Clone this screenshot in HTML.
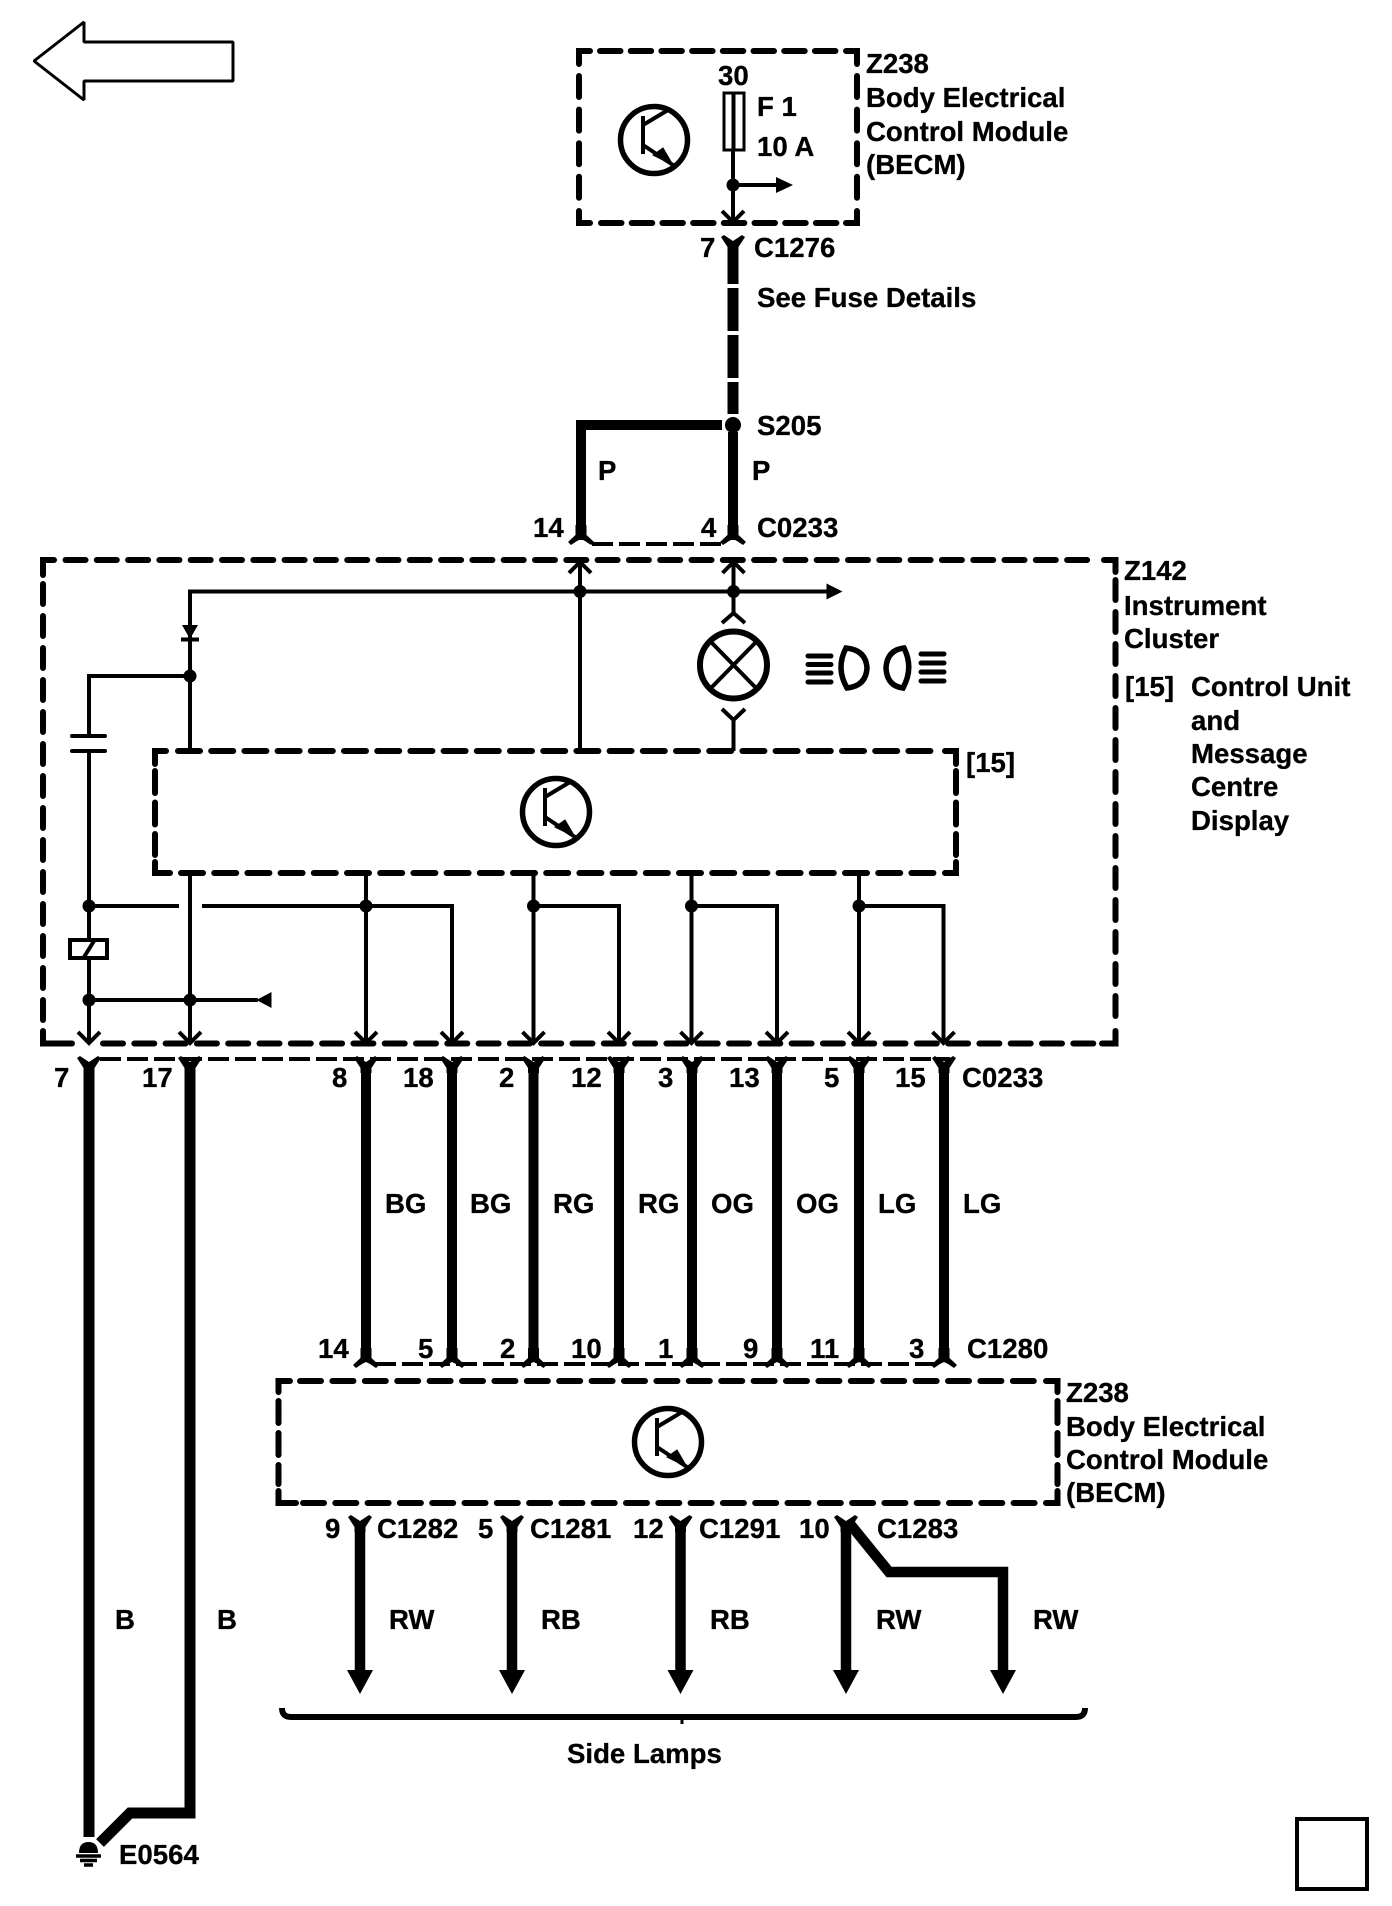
<!DOCTYPE html>
<html>
<head>
<meta charset="utf-8">
<style>
html,body{margin:0;padding:0;background:#fff;}
svg{display:block;}
text{font-family:"Liberation Sans",sans-serif;font-weight:700;font-size:27.6px;fill:#000;stroke:#000;stroke-width:0.3;}
.t{fill:none;stroke:#000;stroke-width:4;}
.w{fill:none;stroke:#000;stroke-width:11;stroke-linejoin:miter;}
.dh{fill:none;stroke:#000;stroke-width:6;stroke-linecap:round;}
.c{fill:none;stroke:#000;stroke-width:6;stroke-linecap:round;stroke-linejoin:miter;}
.cd{fill:none;stroke:#000;stroke-width:4;stroke-dasharray:21 6;}
</style>
</head>
<body>
<svg width="1392" height="1906" viewBox="0 0 1392 1906" xmlns="http://www.w3.org/2000/svg">
<defs>
<path id="yt" d="M-12,-1 L-9,-3 L0,3 L9,-3 L12,-1 L5.5,9 L5.5,14 L-5.5,14 L-5.5,9 Z" fill="#000"/>
<path id="ft" d="M-5.5,-16 L-5.5,-6 L-13,1 L-10,4 L-4,0 L0,-2 L4,0 L10,4 L13,1 L5.5,-6 L5.5,-16 Z" fill="#000"/>
<path id="dn" d="M-11,-11 L0,0 L11,-11" fill="none" stroke="#000" stroke-width="4"/>
<path id="up" d="M-11,11 L0,0 L11,11" fill="none" stroke="#000" stroke-width="4"/>
<path id="ah" d="M-13,-24 L13,-24 L0,0 Z" fill="#000"/>
<g id="tr">
<circle cx="0" cy="0" r="33.5" fill="none" stroke="#000" stroke-width="5.5"/>
<path d="M-11,-24 L-11,14 M-11,-15 L14,-30 M-11,5 L19,25" fill="none" stroke="#000" stroke-width="4"/>
<path d="M19,25 L-1,15 L9,8 Z" fill="#000" stroke="#000" stroke-width="1"/>
</g>
</defs>

<!-- top-left arrow -->
<path d="M84,22 L34,61 L84,100 L84,81 L233,81 L233,42 L84,42 Z" fill="none" stroke="#000" stroke-width="3" stroke-linejoin="bevel"/>

<!-- upper BECM box -->
<path class="c" d="M590,51 L579,51 L579,64"/>
<path class="c" d="M846,51 L857,51 L857,64"/>
<path class="c" d="M579,211 L579,223 L590,223"/>
<path class="c" d="M846,223 L857,223 L857,211"/>
<path class="dh" d="M600,51 L838,51" stroke-dasharray="20.5 10.2"/>
<path class="dh" d="M601,223 L838,223" stroke-dasharray="20.5 10.2"/>
<path class="dh" d="M579,76 L579,203" stroke-dasharray="21 12.6"/>
<path class="dh" d="M857,76 L857,203" stroke-dasharray="21 12.6"/>
<use href="#tr" x="654" y="140"/>
<rect x="724" y="93" width="20" height="57" fill="none" stroke="#000" stroke-width="3"/>
<path class="t" d="M733.5,93 L733.5,150"/>
<path class="t" d="M733,150 L733,222"/>
<circle cx="733" cy="185" r="6.5"/>
<path class="t" d="M733,185 L778,185"/>
<path d="M776,177 L793,185 L776,193 Z"/>
<use href="#dn" x="733" y="222"/>

<!-- C1276 wire -->
<use href="#yt" x="733" y="238"/>
<path d="M727.5,250 H738.5 V284 H727.5 Z M727.5,288 H738.5 V331 H727.5 Z M727.5,335 H738.5 V378 H727.5 Z M727.5,382 H738.5 V414 H727.5 Z" fill="#000"/>
<circle cx="733" cy="425" r="8"/>
<path class="w" d="M733,432 L733,540" style="stroke-width:10"/>
<path class="w" d="M722,425 L581,425 L581,540" style="stroke-width:10"/>
<use href="#ft" x="581" y="541"/>
<use href="#ft" x="733" y="541"/>
<path class="cd" d="M592,544 L722,544"/>

<!-- Z142 box -->
<path class="c" d="M54,560 L43,560 L43,575"/>
<path class="c" d="M1104,560 L1115.5,560 L1115.5,572"/>
<path class="c" d="M43,1031 L43,1043.5 L72,1043.5"/>
<path class="c" d="M1102,1043.5 L1115.5,1043.5 L1115.5,1031"/>
<path class="dh" d="M65.5,560 L1095,560" stroke-dasharray="20 11.3"/>
<path class="dh" d="M103,1043.5 L1094,1043.5" stroke-dasharray="20 11.3"/>
<path class="dh" d="M43,584 L43,1022" stroke-dasharray="20 12"/>
<path class="dh" d="M1115.5,580 L1115.5,1022" stroke-dasharray="20 12"/>

<!-- inner [15] box -->
<path class="c" d="M166,751 L155,751 L155,764"/>
<path class="c" d="M945,751 L956,751 L956,764"/>
<path class="c" d="M155,862 L155,873 L170,873"/>
<path class="c" d="M945,873 L956,873 L956,862"/>
<path class="dh" d="M178,751 L935,751" stroke-dasharray="22 11.2"/>
<path class="dh" d="M181,873 L935,873" stroke-dasharray="22 11.2"/>
<path class="dh" d="M155,771 L155,855" stroke-dasharray="22 9.5"/>
<path class="dh" d="M956,771 L956,855" stroke-dasharray="22 9.5"/>
<use href="#tr" x="556" y="812"/>

<!-- inner wiring -->
<path class="t" d="M828,591.5 L190,591.5 L190,751"/>
<path d="M826.5,583.5 L842.5,591.5 L826.5,599.5 Z"/>
<path d="M182,625 L198,625 L190,639 Z"/>
<path class="t" d="M181,639.5 L199,639.5"/>
<path class="t" d="M580,751 L580,562"/>
<use href="#up" x="580" y="562"/>
<circle cx="580" cy="591.5" r="6.5"/>
<path class="t" d="M733.5,562 L733.5,613"/>
<use href="#up" x="733.5" y="562"/>
<circle cx="733.5" cy="591.5" r="6.5"/>
<path class="t" d="M722,623 L733.5,613 L745,623"/>
<circle cx="733.5" cy="665" r="33.5" fill="none" stroke="#000" stroke-width="6"/>
<path class="t" d="M710,641 L757,689 M757,641 L710,689"/>
<path class="t" d="M722,709 L733.5,720 L745,709 M733.5,720 L733.5,751"/>
<circle cx="190" cy="676" r="6.5"/>
<path class="t" d="M190,676 L89,676 L89,736"/>
<path d="M72,736 L105,736" stroke="#000" stroke-width="4" stroke-linecap="round"/>
<path d="M72,751 L105,751" stroke="#000" stroke-width="4" stroke-linecap="round"/>
<path class="t" d="M89,751 L89,939"/>
<circle cx="89" cy="906" r="6.5"/>
<rect x="70" y="940" width="37" height="18" fill="none" stroke="#000" stroke-width="4"/>
<path class="t" d="M84,957 L94,941"/>
<path class="t" d="M89,958 L89,1043"/>
<use href="#dn" x="89" y="1043"/>
<circle cx="89" cy="1000" r="6.5"/>
<path class="t" d="M89,906 L179,906"/>
<path class="t" d="M202,906 L452,906 L452,1043"/>
<path class="t" d="M190,873 L190,1043"/>
<use href="#dn" x="190" y="1043"/>
<circle cx="190" cy="1000" r="6.5"/>
<path class="t" d="M89,1000 L258,1000"/>
<path d="M271.5,992 L256.5,1000 L271.5,1008 Z"/>
<path class="t" d="M366,873 L366,1043"/>
<circle cx="366" cy="906" r="6.5"/>
<use href="#dn" x="366" y="1043"/>
<use href="#dn" x="452" y="1043"/>
<path class="t" d="M533.5,873 L533.5,1043 M533.5,906 L619,906 L619,1043"/>
<circle cx="533.5" cy="906" r="6.5"/>
<use href="#dn" x="533.5" y="1043"/>
<use href="#dn" x="619" y="1043"/>
<path class="t" d="M691.5,873 L691.5,1043 M691.5,906 L777,906 L777,1043"/>
<circle cx="691.5" cy="906" r="6.5"/>
<use href="#dn" x="691.5" y="1043"/>
<use href="#dn" x="777" y="1043"/>
<path class="t" d="M859,873 L859,1043 M859,906 L943.5,906 L943.5,1043"/>
<circle cx="859" cy="906" r="6.5"/>
<use href="#dn" x="859" y="1043"/>
<use href="#dn" x="943.5" y="1043"/>

<!-- lamp icons -->
<path d="M808,656 H831 M808,664.5 H831 M808,673 H831 M808,682 H831" stroke="#000" stroke-width="5" stroke-linecap="round" fill="none"/>
<path d="M846,648 Q866,650 867,668 Q866,686 847,688 Q835.5,668 846,648 Z" fill="none" stroke="#000" stroke-width="5.5"/>
<path d="M921,654 H944 M921,663 H944 M921,672 H944 M921,681 H944" stroke="#000" stroke-width="5" stroke-linecap="round" fill="none"/>
<path d="M904,648 Q887,650 886,668 Q887,686 903,688 Q914,668 904,648 Z" fill="none" stroke="#000" stroke-width="5.5"/>

<!-- C0233 lower connector -->
<path class="cd" d="M100,1059 L950,1059"/>
<use href="#yt" x="89" y="1059"/>
<use href="#yt" x="190" y="1059"/>
<use href="#yt" x="366" y="1059"/>
<use href="#yt" x="452" y="1059"/>
<use href="#yt" x="533.5" y="1059"/>
<use href="#yt" x="619" y="1059"/>
<use href="#yt" x="692" y="1059"/>
<use href="#yt" x="777" y="1059"/>
<use href="#yt" x="859" y="1059"/>
<use href="#yt" x="944" y="1059"/>

<!-- vertical harness wires -->
<path class="w" d="M366,1068 V1354 M452,1068 V1354 M533.5,1068 V1354 M619,1068 V1354 M692,1068 V1354 M777,1068 V1354 M859,1068 V1354 M944,1068 V1354" style="stroke-width:10"/>
<use href="#ft" x="366" y="1364"/>
<use href="#ft" x="452" y="1364"/>
<use href="#ft" x="533.5" y="1364"/>
<use href="#ft" x="619" y="1364"/>
<use href="#ft" x="692" y="1364"/>
<use href="#ft" x="777" y="1364"/>
<use href="#ft" x="859" y="1364"/>
<use href="#ft" x="944" y="1364"/>
<path class="cd" d="M375,1364 L936,1364"/>

<!-- ground wires -->
<path class="w" d="M89,1068 L89,1837"/>
<path class="w" d="M190,1068 L190,1813 L130,1813 L100,1843"/>
<path d="M79,1853 Q79,1842 88.5,1842 Q98,1842 98,1853 Z"/>
<path d="M76,1856 H101 M80,1860.5 H97 M84,1865 H93" stroke="#000" stroke-width="3.5" fill="none"/>

<!-- lower BECM box -->
<path class="c" d="M290,1381 L278.5,1381 L278.5,1392"/>
<path class="c" d="M1046,1381 L1057.5,1381 L1057.5,1392"/>
<path class="c" d="M278.5,1491 L278.5,1503 L296,1503"/>
<path class="c" d="M1046,1503 L1057.5,1503 L1057.5,1491"/>
<path class="dh" d="M300,1381 L1040,1381" stroke-dasharray="21 11.4"/>
<path class="dh" d="M303,1503 L1040,1503" stroke-dasharray="21 11.3"/>
<path class="dh" d="M278.5,1401 L278.5,1484" stroke-dasharray="22 10"/>
<path class="dh" d="M1057.5,1401 L1057.5,1484" stroke-dasharray="22 10"/>
<use href="#tr" x="668" y="1442"/>

<!-- lower output wires -->
<use href="#yt" x="360" y="1518"/>
<use href="#yt" x="512" y="1518"/>
<use href="#yt" x="680.5" y="1518"/>
<use href="#yt" x="846" y="1518"/>
<path class="w" d="M360,1530 V1672 M512,1530 V1672 M680.5,1530 V1672 M846,1530 V1672" style="stroke-width:10.5"/>
<path class="w" d="M850,1524 L889,1572 L1003,1572 L1003,1672" style="stroke-width:10.5"/>
<use href="#ah" x="360" y="1694"/>
<use href="#ah" x="512" y="1694"/>
<use href="#ah" x="680.5" y="1694"/>
<use href="#ah" x="846" y="1694"/>
<use href="#ah" x="1003" y="1694"/>

<!-- brace -->
<path d="M282,1708 Q282,1717 291,1717 L1076,1717 Q1085,1717 1085,1708" fill="none" stroke="#000" stroke-width="6"/>
<path d="M682,1715 V1724" stroke="#000" stroke-width="3"/>

<!-- bottom-right square -->
<rect x="1297" y="1819" width="70" height="70" fill="none" stroke="#000" stroke-width="4"/>

<!-- labels -->
<text x="866" y="73">Z238</text>
<text x="866" y="107">Body Electrical</text>
<text x="866" y="141">Control Module</text>
<text x="866" y="174">(BECM)</text>
<text x="718" y="85">30</text>
<text x="757" y="116">F 1</text>
<text x="757" y="156">10 A</text>
<text x="700" y="257">7</text>
<text x="754" y="257">C1276</text>
<text x="757" y="307">See Fuse Details</text>
<text x="757" y="435">S205</text>
<text x="598" y="480">P</text>
<text x="752" y="480">P</text>
<text x="533" y="537">14</text>
<text x="701" y="537">4</text>
<text x="757" y="537">C0233</text>
<text x="1124" y="580">Z142</text>
<text x="1124" y="615">Instrument</text>
<text x="1124" y="648">Cluster</text>
<text x="1125" y="696">[15]</text>
<text x="1191" y="696">Control Unit</text>
<text x="1191" y="730">and</text>
<text x="1191" y="763">Message</text>
<text x="1191" y="796">Centre</text>
<text x="1191" y="830">Display</text>
<text x="966" y="772">[15]</text>

<text x="54" y="1087">7</text>
<text x="142" y="1087">17</text>
<text x="332" y="1087">8</text>
<text x="403" y="1087">18</text>
<text x="499" y="1087">2</text>
<text x="571" y="1087">12</text>
<text x="658" y="1087">3</text>
<text x="729" y="1087">13</text>
<text x="824" y="1087">5</text>
<text x="895" y="1087">15</text>
<text x="962" y="1087">C0233</text>

<text x="385" y="1213">BG</text>
<text x="470" y="1213">BG</text>
<text x="553" y="1213">RG</text>
<text x="638" y="1213">RG</text>
<text x="711" y="1213">OG</text>
<text x="796" y="1213">OG</text>
<text x="878" y="1213">LG</text>
<text x="963" y="1213">LG</text>

<text x="318" y="1358">14</text>
<text x="418" y="1358">5</text>
<text x="500" y="1358">2</text>
<text x="571" y="1358">10</text>
<text x="658" y="1358">1</text>
<text x="743" y="1358">9</text>
<text x="810" y="1358">11</text>
<text x="909" y="1358">3</text>
<text x="967" y="1358">C1280</text>

<text x="1066" y="1402">Z238</text>
<text x="1066" y="1436">Body Electrical</text>
<text x="1066" y="1469">Control Module</text>
<text x="1066" y="1502">(BECM)</text>

<text x="325" y="1538">9</text>
<text x="377" y="1538">C1282</text>
<text x="478" y="1538">5</text>
<text x="530" y="1538">C1281</text>
<text x="633" y="1538">12</text>
<text x="699" y="1538">C1291</text>
<text x="799" y="1538">10</text>
<text x="877" y="1538">C1283</text>

<text x="115" y="1629">B</text>
<text x="217" y="1629">B</text>
<text x="389" y="1629">RW</text>
<text x="541" y="1629">RB</text>
<text x="710" y="1629">RB</text>
<text x="876" y="1629">RW</text>
<text x="1033" y="1629">RW</text>

<text x="567" y="1763">Side Lamps</text>
<text x="119" y="1864">E0564</text>
</svg>
</body>
</html>
